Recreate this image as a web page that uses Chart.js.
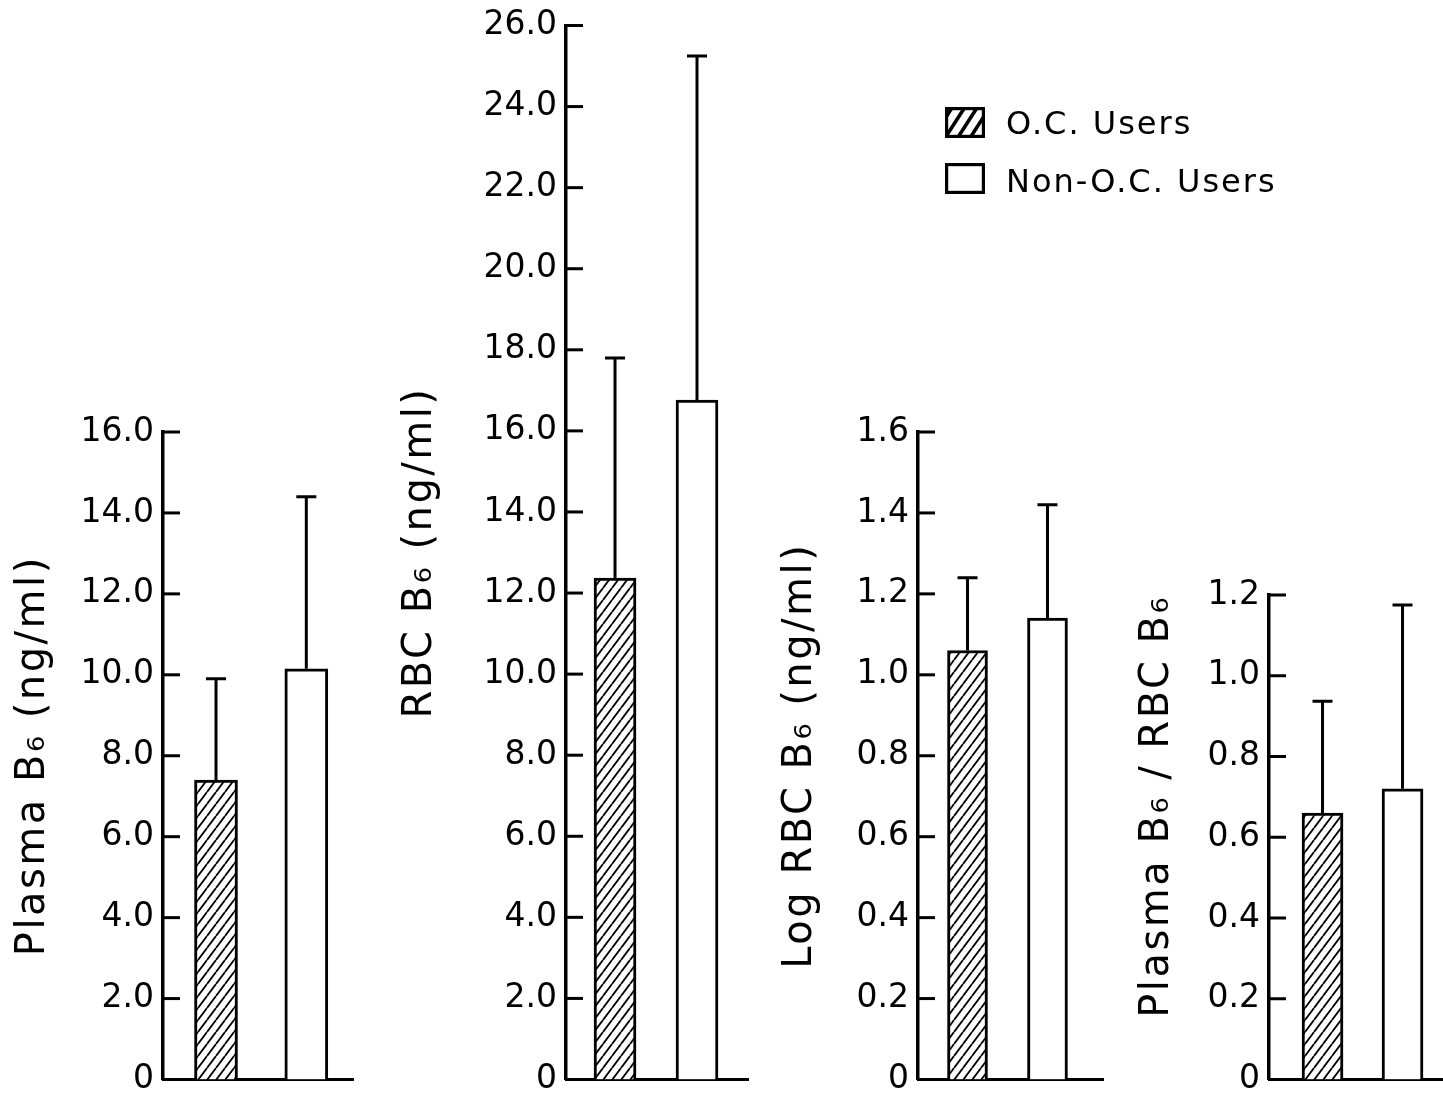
<!DOCTYPE html>
<html>
<head>
<meta charset="utf-8">
<script src="https://cdn.jsdelivr.net/npm/chart.js@4/dist/chart.umd.min.js"></script>
<style>
  html, body { margin: 0; padding: 0; background: #ffffff; }
  #wrap { position: relative; width: 1443px; height: 1105px; overflow: hidden; background: #ffffff; }
  #wrap canvas.panel { position: absolute; left: 0; top: 0; }
  .sw { position: absolute; left: 945px; width: 40px; height: 31px; }
  .lt { position: absolute; left: 1006px; height: 40px; line-height: 40px; font-family: "DejaVu Sans", sans-serif;
        font-size: 32px; letter-spacing: 2px; color: #000; white-space: nowrap; }
</style>
</head>
<body>
<div id="wrap">
  <canvas class="panel" id="c1" width="1443" height="1105"></canvas>
  <canvas class="panel" id="c2" width="1443" height="1105"></canvas>
  <canvas class="panel" id="c3" width="1443" height="1105"></canvas>
  <canvas class="panel" id="c4" width="1443" height="1105"></canvas>
  <canvas class="sw" id="sw1" width="40" height="31" style="top:107px"></canvas>
  <div class="lt" id="lt1" style="top:103px"></div>
  <canvas class="sw" id="sw2" width="40" height="31" style="top:163px"></canvas>
  <div class="lt" id="lt2" style="top:161px"></div>
</div>
<script>
// ---------------- data ----------------
const groups = ['O.C. Users', 'Non-O.C. Users'];

const plasmaMean = [7.4, 10.15];
const plasmaSD   = [2.5, 4.25];

const rbcMean    = [12.37, 16.76];
const rbcSD      = [5.43, 8.49];

const logRbcMean = [1.06, 1.14];
const logRbcSD   = [0.18, 0.28];

const ratioMean  = [0.66, 0.72];
const ratioSD    = [0.277, 0.455];

const plasmaTicks = ['0', '2.0', '4.0', '6.0', '8.0', '10.0', '12.0', '14.0', '16.0'];
const rbcTicks    = ['0', '2.0', '4.0', '6.0', '8.0', '10.0', '12.0', '14.0', '16.0', '18.0', '20.0', '22.0', '24.0', '26.0'];
const logRbcTicks = ['0', '0.2', '0.4', '0.6', '0.8', '1.0', '1.2', '1.4', '1.6'];
const ratioTicks  = ['0', '0.2', '0.4', '0.6', '0.8', '1.0', '1.2'];

const plasmaTitle = 'Plasma B\u2086 (ng/ml)';
const rbcTitle    = 'RBC B\u2086 (ng/ml)';
const logRbcTitle = 'Log RBC B\u2086 (ng/ml)';
const ratioTitle  = 'Plasma B\u2086 / RBC B\u2086';

// ---------------- style / layout ----------------
const FONT = '"DejaVu Sans", sans-serif';
const TITLE_SIZE = 40;
const TITLE_LH = 1.2;
const W = 1443, H = 1105;

document.getElementById('lt1').textContent = groups[0];
document.getElementById('lt2').textContent = groups[1];

function makeHatchTile() {
  const c = document.createElement('canvas');
  c.width = 9; c.height = 12;
  const g = c.getContext('2d');
  g.fillStyle = '#ffffff';
  g.fillRect(0, 0, 9, 12);
  g.strokeStyle = '#000000';
  g.lineWidth = 1.8;
  g.beginPath();
  g.moveTo(-9, 12); g.lineTo(0, 0);
  g.moveTo(0, 12); g.lineTo(9, 0);
  g.moveTo(9, 12); g.lineTo(18, 0);
  g.stroke();
  return c;
}
const hatch = document.createElement('canvas').getContext('2d').createPattern(makeHatchTile(), 'repeat');

// legend swatches
(function () {
  const s1 = document.getElementById('sw1').getContext('2d');
  s1.fillStyle = '#fff'; s1.fillRect(0, 0, 40, 31);
  s1.save();
  s1.beginPath(); s1.rect(0, 0, 40, 31); s1.clip();
  s1.strokeStyle = '#000'; s1.lineWidth = 3.6;
  s1.beginPath();
  for (let k = -1; k < 4; k++) {
    const x0 = k * 12.5;
    s1.moveTo(x0, 31); s1.lineTo(x0 + 20, 0);
  }
  s1.stroke();
  s1.restore();
  s1.strokeStyle = '#000'; s1.lineWidth = 3.2;
  s1.strokeRect(1.6, 1.6, 36.8, 27.8);
  const s2 = document.getElementById('sw2').getContext('2d');
  s2.fillStyle = '#fff'; s2.fillRect(0, 0, 40, 31);
  s2.strokeStyle = '#000'; s2.lineWidth = 3.2;
  s2.strokeRect(1.6, 1.6, 36.8, 27.8);
})();

const layouts = {
  c1: { axisX: 163,  right: 353,  top: 432, bottom: 1085, titleX: 34,   xMin: -0.587, xMax: 1.517, barW: 43, align: 'center' },
  c2: { axisX: 566,  right: 748,  top: 23,  bottom: 1086, titleX: 421,  xMin: -0.598, xMax: 1.622, barW: 42, align: 'center' },
  c3: { axisX: 918,  right: 1103, top: 432, bottom: 1084, titleX: 801,  xMin: -0.619, xMax: 1.694, barW: 40, align: 'center' },
  c4: { axisX: 1269, right: 1443, top: 595, bottom: 1084, titleX: 1158, xMin: -0.669, xMax: 1.506, barW: 41, align: 'end' }
};

function makeChart(id, mean, sd, tickLabels, title, maxV, step) {
  const cfg = layouts[id];
  const padLeft = cfg.titleX - TITLE_SIZE * TITLE_LH / 2;
  const yWidth = cfg.axisX - padLeft;

  const errorBars = {
    id: 'errorBars',
    afterDatasetsDraw(chart) {
      const ctx = chart.ctx, ys = chart.scales.y, meta = chart.getDatasetMeta(0);
      ctx.save();
      ctx.strokeStyle = '#000'; ctx.lineWidth = 3; ctx.lineCap = 'butt';
      meta.data.forEach((bar, i) => {
        const yTop = ys.getPixelForValue(mean[i] + sd[i]);
        ctx.beginPath();
        ctx.moveTo(bar.x, bar.y); ctx.lineTo(bar.x, yTop);
        ctx.moveTo(bar.x - 10, yTop); ctx.lineTo(bar.x + 10, yTop);
        ctx.stroke();
      });
      ctx.restore();
    }
  };
  const inwardTicks = {
    id: 'inwardTicks',
    afterDatasetsDraw(chart) {
      const ctx = chart.ctx, ys = chart.scales.y, x0 = chart.chartArea.left;
      ctx.save();
      ctx.strokeStyle = '#000'; ctx.lineWidth = 3;
      ys.ticks.forEach(t => {
        if (t.value === 0) return;
        const py = ys.getPixelForValue(t.value);
        ctx.beginPath(); ctx.moveTo(x0, py); ctx.lineTo(x0 + 17, py); ctx.stroke();
      });
      ctx.restore();
    }
  };
  const spacedTitle = {
    id: 'spacedTitle',
    beforeDraw(chart) {
      const s = chart.scales.y;
      if (s && !s._spaced) {
        const orig = s.drawTitle;
        s.drawTitle = function () {
          const c = this.ctx; c.save();
          try { c.letterSpacing = '2.5px'; } catch (e) {}
          orig.apply(this, arguments); c.restore();
        };
        s._spaced = true;
      }
    }
  };

  return new Chart(document.getElementById(id), {
    type: 'bar',
    data: {
      datasets: [{
        label: title,
        data: mean.map((m, i) => ({ x: i, y: m })),
        backgroundColor: [hatch, '#ffffff'],
        borderColor: '#000000',
        borderWidth: 3,
        borderSkipped: 'start',
        barThickness: cfg.barW
      }]
    },
    options: {
      responsive: false,
      animation: false,
      devicePixelRatio: 1,
      events: [],
      layout: { padding: { left: padLeft, right: W - cfg.right, top: cfg.top, bottom: H - cfg.bottom } },
      plugins: { legend: { display: false }, tooltip: { enabled: false } },
      scales: {
        x: {
          type: 'linear', min: cfg.xMin, max: cfg.xMax, offset: false,
          ticks: { display: false },
          grid: { display: false, drawTicks: false, offset: false },
          border: { display: true, color: '#000', width: 3 },
          afterFit(s) { s.height = 0; }
        },
        y: {
          type: 'linear', min: 0, max: maxV,
          ticks: {
            stepSize: step, padding: 9, color: '#000',
            font: { family: FONT, size: 33, lineHeight: 1 },
            callback: (v) => tickLabels[Math.round(v / step)]
          },
          grid: { display: false, drawTicks: false },
          border: { display: true, color: '#000', width: 3.5 },
          title: {
            display: true, text: title, color: '#000', align: cfg.align,
            font: { family: FONT, size: TITLE_SIZE, lineHeight: TITLE_LH },
            padding: 0
          },
          afterFit(s) { s.width = yWidth; }
        }
      }
    },
    plugins: [errorBars, inwardTicks, spacedTitle]
  });
}

makeChart('c1', plasmaMean, plasmaSD, plasmaTicks, plasmaTitle, 16, 2);
makeChart('c2', rbcMean, rbcSD, rbcTicks, rbcTitle, 26, 2);
makeChart('c3', logRbcMean, logRbcSD, logRbcTicks, logRbcTitle, 1.6, 0.2);
makeChart('c4', ratioMean, ratioSD, ratioTicks, ratioTitle, 1.2, 0.2);
</script>
</body>
</html>
